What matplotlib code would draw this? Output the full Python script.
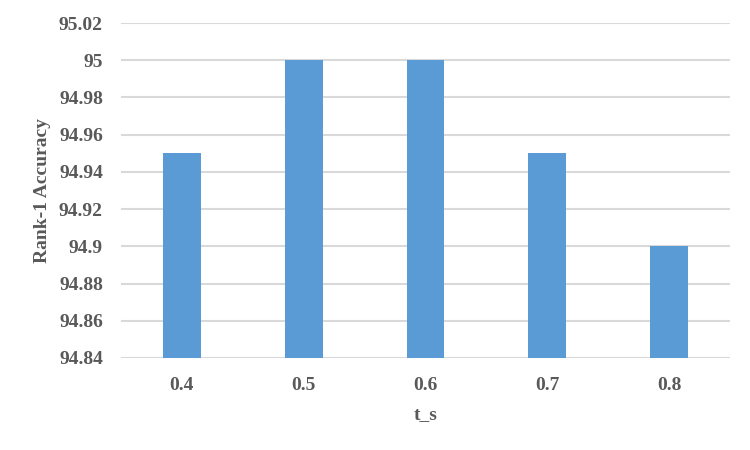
import matplotlib.pyplot as plt
import numpy as np

# data
t_s = ['0.4', '0.5', '0.6', '0.7', '0.8']
rank1 = [94.95, 95.0, 95.0, 94.95, 94.90]
yticks = [94.84, 94.86, 94.88, 94.90, 94.92, 94.94, 94.96, 94.98, 95.00, 95.02]
ytick_labels = ['94.84', '94.86', '94.88', '94.9', '94.92', '94.94', '94.96', '94.98', '95', '95.02']

plt.rcParams['font.family'] = ['Liberation Serif', 'DejaVu Serif']
text_color = '#595959'

fig = plt.figure(figsize=(7.5, 4.5), dpi=100)
ax = fig.add_axes([121 / 750, 1 - 358 / 450, 609 / 750, 335 / 450])

x = np.arange(len(t_s))
ax.bar(x, np.array(rank1) - 94.84, 0.31, bottom=94.84, color='#5B9BD5', zorder=3)

ax.set_xlim(-0.5, len(t_s) - 0.5)
ax.set_ylim(94.84, 95.02)
ax.set_yticks(yticks)
ax.set_yticklabels(ytick_labels)
ax.set_xticks(x)
ax.set_xticklabels(t_s)
ax.grid(axis='y', color='#D9D9D9', lw=1.5, zorder=0)
ax.tick_params(length=0, labelsize=14, labelcolor=text_color)
ax.tick_params(axis='y', pad=13)
ax.tick_params(axis='x', pad=14)
for lbl in ax.get_xticklabels() + ax.get_yticklabels():
    lbl.set_fontweight('bold')
for s in ax.spines.values():
    s.set_visible(False)

ax.set_xlabel('t_s', fontsize=14, fontweight='bold', color=text_color, labelpad=8)
ax.set_ylabel('Rank-1 Accuracy', fontsize=14, fontweight='bold', color=text_color, labelpad=6)

plt.savefig('out.png', dpi=100)
